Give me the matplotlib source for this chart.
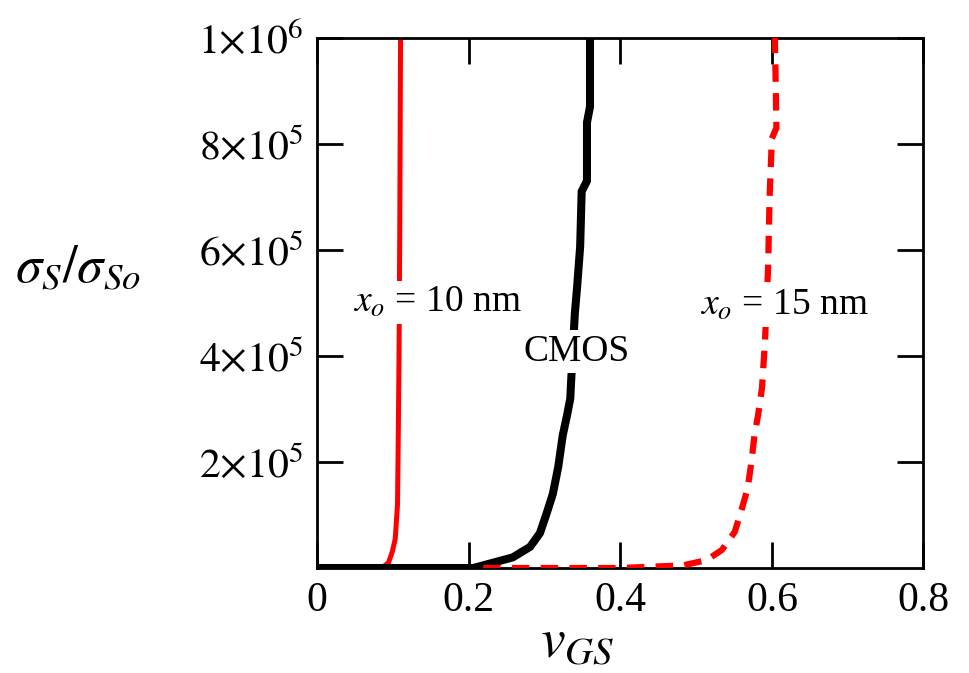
import matplotlib
matplotlib.use('Agg')
import matplotlib.pyplot as plt

plt.rcParams['font.family'] = ['Liberation Serif', 'DejaVu Serif']
plt.rcParams['mathtext.fontset'] = 'stix'

# x_o = 10 nm (red solid)
x10 = [0.0, 0.06, 0.085, 0.094, 0.099, 0.103, 0.106, 0.107, 0.108, 0.109, 0.110]
y10 = [0, 0, 0, 1.0e4, 3.0e4, 5.5e4, 1.2e5, 2.5e5, 4.0e5, 6.5e5, 1.0e6]

# CMOS (black)
xc = [0.0, 0.18, 0.206, 0.232, 0.258, 0.281, 0.294, 0.303, 0.311, 0.318, 0.324,
      0.330, 0.334, 0.335, 0.340, 0.343, 0.347, 0.349, 0.356, 0.356, 0.360, 0.360]
yc = [0, 0, 0, 1.0e4, 2.0e4, 4.0e4, 6.6e4, 1.04e5, 1.4e5, 1.9e5, 2.5e5,
      2.9e5, 3.2e5, 3.5e5, 4.8e5, 5.3e5, 6.06e5, 7.1e5, 7.3e5, 8.4e5, 8.7e5, 1.0e6]

# x_o = 15 nm (red dashed)
x15 = [0.219, 0.40, 0.483, 0.514, 0.534, 0.551, 0.560, 0.568, 0.573, 0.577,
       0.582, 0.587, 0.591, 0.595, 0.597, 0.600, 0.606, 0.604]
y15 = [0, 0, 0.5e4, 1.5e4, 3.4e4, 6.8e4, 1.1e5, 1.5e5, 2.0e5, 2.5e5,
       2.9e5, 3.4e5, 4.3e5, 5.66e5, 7.0e5, 8.1e5, 8.3e5, 1.0e6]

yticks = [2e5, 4e5, 6e5, 8e5, 1e6]
ytick_labels = [r'$2{\times}10^{5}$', r'$4{\times}10^{5}$', r'$6{\times}10^{5}$',
                r'$8{\times}10^{5}$', r'$1{\times}10^{6}$']
xticks = [0, 0.2, 0.4, 0.6, 0.8]
xtick_labels = ['0', '0.2', '0.4', '0.6', '0.8']

fig = plt.figure(figsize=(9.7, 6.73), dpi=100)
ax = fig.add_axes([0.327, 0.156, 0.625, 0.788])

ax.plot(x10, y10, color='red', lw=3.6, solid_joinstyle='miter', zorder=2)
ax.plot(xc, yc, color='black', lw=5.8, solid_joinstyle='miter', zorder=3)
ax.plot(x15, y15, color='red', lw=4.5, dashes=(2.8, 1.8), zorder=4)

ax.set_xlim(0, 0.8)
ax.set_ylim(0, 1e6)
ax.set_xticks(xticks)
ax.set_xticklabels(xtick_labels, fontsize=30)
ax.set_yticks(yticks)
ax.set_yticklabels(ytick_labels, fontsize=30)
ax.tick_params(direction='in', length=19, width=2, top=True, right=True, pad=10)
for s in ax.spines.values():
    s.set_linewidth(2)

box = dict(facecolor='white', edgecolor='none', pad=3)
ax.text(0.158, 5.0e5, r'$x_o$ = 10 nm', fontsize=27, ha='center', va='center', bbox=box, zorder=5)
ax.text(0.342, 4.08e5, 'CMOS', fontsize=27, ha='center', va='center', bbox=box, zorder=5)
ax.text(0.617, 4.95e5, r'$x_o$ = 15 nm', fontsize=27, ha='center', va='center', bbox=box, zorder=5)

fig.text(0.08, 0.6, r'$\sigma_S/\sigma_{So}$', fontsize=38, ha='center', va='center')
fig.text(0.595, 0.045, r'$v_{GS}$', fontsize=40, ha='center', va='center')

fig.savefig('out.png', dpi=100)
